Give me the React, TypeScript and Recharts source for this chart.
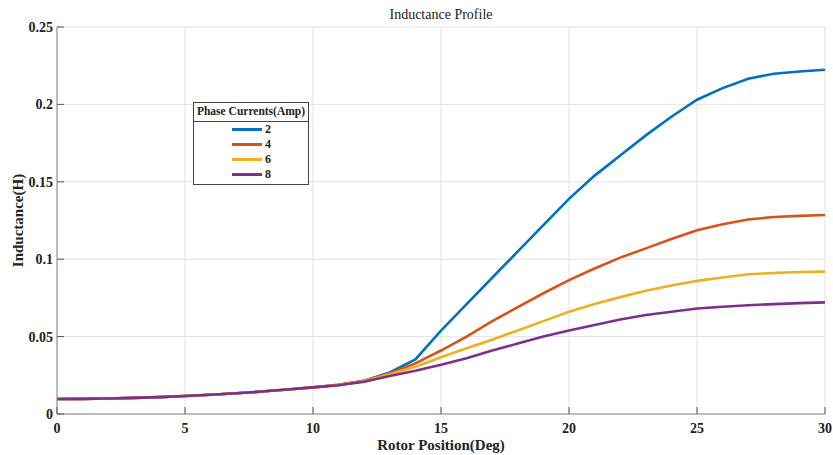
import { LineChart, Line, XAxis, YAxis, CartesianGrid, Legend } from "recharts";

const positions = [
  0, 1, 2, 3, 4, 5, 6, 7, 8, 9, 10, 11, 12, 13, 14, 15, 16, 17, 18, 19, 20,
  21, 22, 23, 24, 25, 26, 27, 28, 29, 30,
];

const amp2 = [
  0.0097, 0.0098, 0.01, 0.0104, 0.0109, 0.0116, 0.0124, 0.0134, 0.0145, 0.0158,
  0.0172, 0.0189, 0.0215, 0.0268, 0.0353, 0.0538, 0.071, 0.088, 0.105, 0.122,
  0.139, 0.154, 0.167, 0.18, 0.192, 0.203, 0.2105, 0.2166, 0.2198, 0.2213,
  0.2224,
];
const amp4 = [
  0.0097, 0.0098, 0.01, 0.0104, 0.0109, 0.0116, 0.0124, 0.0134, 0.0145, 0.0158,
  0.0172, 0.0188, 0.0214, 0.0262, 0.0327, 0.041, 0.05, 0.06, 0.069, 0.078,
  0.0865, 0.094, 0.101, 0.107, 0.113, 0.1187, 0.1226, 0.1256, 0.1273, 0.128,
  0.1286,
];
const amp6 = [
  0.0097, 0.0098, 0.01, 0.0104, 0.0109, 0.0116, 0.0124, 0.0134, 0.0145, 0.0158,
  0.0172, 0.0187, 0.0212, 0.0256, 0.0305, 0.0367, 0.0425, 0.048, 0.054, 0.06,
  0.066, 0.071, 0.0755, 0.0796, 0.083, 0.086, 0.0882, 0.0903, 0.0911, 0.0917,
  0.092,
];
const amp8 = [
  0.0097, 0.0098, 0.01, 0.0104, 0.0109, 0.0116, 0.0124, 0.0134, 0.0145, 0.0158,
  0.0172, 0.0186, 0.0208, 0.0245, 0.0279, 0.0318, 0.036, 0.041, 0.0455, 0.05,
  0.054, 0.0575, 0.061, 0.0639, 0.066, 0.0682, 0.0693, 0.0703, 0.071, 0.0716,
  0.0721,
];

const xTicks = [0, 5, 10, 15, 20, 25, 30];
const yTicks = [0, 0.05, 0.1, 0.15, 0.2, 0.25];

const series = [
  { key: "a2", name: "2", color: "#0072BD" },
  { key: "a4", name: "4", color: "#D95319" },
  { key: "a6", name: "6", color: "#EDB120" },
  { key: "a8", name: "8", color: "#7E2F8E" },
];

const data = positions.map((x, i) => ({
  x,
  a2: amp2[i],
  a4: amp4[i],
  a6: amp6[i],
  a8: amp8[i],
}));

const FONT = "'Liberation Serif', 'DejaVu Serif', serif";
const TICK_COLOR = "#555";

function BottomTick({ x, y, payload }: any) {
  return (
    <g>
      <line x1={x} x2={x} y1={y} y2={y - 7} stroke={TICK_COLOR} />
      <text x={x} y={y + 19} textAnchor="middle" fontFamily={FONT} fontWeight="bold" fontSize={14} fill="#222">
        {payload.value}
      </text>
    </g>
  );
}

function TopTick({ x, y }: any) {
  return <line x1={x} x2={x} y1={y} y2={y + 7} stroke={TICK_COLOR} />;
}

function LeftTick({ x, y, payload }: any) {
  return (
    <g>
      <line x1={x} x2={x + 7} y1={y} y2={y} stroke={TICK_COLOR} />
      <text x={x - 4} y={y} dy="0.35em" textAnchor="end" fontFamily={FONT} fontWeight="bold" fontSize={14} fill="#222">
        {payload.value}
      </text>
    </g>
  );
}

function RightTick({ x, y }: any) {
  return <line x1={x} x2={x - 7} y1={y} y2={y} stroke={TICK_COLOR} />;
}

function LegendBox() {
  return (
    <div
      style={{
        border: "1px solid #444",
        background: "#fff",
        fontFamily: FONT,
        fontWeight: "bold",
        fontSize: 11.5,
        color: "#222",
        boxSizing: "border-box",
        width: 116,
      }}
    >
      <div style={{ textAlign: "center", borderBottom: "1px solid #444", lineHeight: "17px", height: 18, whiteSpace: "nowrap" }}>
        Phase Currents(Amp)
      </div>
      <div style={{ padding: "0 0 2px" }}>
        {series.map((s) => (
          <div key={s.key} style={{ display: "flex", alignItems: "center", height: 15, paddingLeft: 38 }}>
            <span style={{ display: "inline-block", width: 30, height: 3, background: s.color, marginRight: 3 }} />
            <span style={{ fontSize: 12 }}>{s.name}</span>
          </div>
        ))}
      </div>
    </div>
  );
}

export default function App() {
  return (
    <div style={{ position: "absolute", left: 0, top: 0, width: 833, height: 455, background: "#fff" }}>
      <div
        style={{
          position: "absolute",
          left: 341,
          top: 6,
          width: 200,
          textAlign: "center",
          fontFamily: FONT,
          fontSize: 14,
          color: "#222",
          lineHeight: "18px",
        }}
      >
        Inductance Profile
      </div>
      <LineChart
        width={833}
        height={455}
        data={data}
        margin={{ top: 27, right: 8, left: 0, bottom: 0 }}
      >
        <CartesianGrid stroke="#e3e3e3" strokeWidth={1} />
        <XAxis
          dataKey="x"
          type="number"
          domain={[0, 30]}
          ticks={xTicks}
          height={41}
          tickSize={0}
          tickMargin={0}
          tickLine={false}
          tick={<BottomTick />}
          axisLine={{ stroke: "#888" }}
          label={{
            value: "Rotor Position(Deg)",
            position: "center",
            dy: 10,
            style: { fontFamily: FONT, fontWeight: "bold", fontSize: 15, fill: "#222" },
          }}
        />
        <XAxis
          xAxisId="top"
          orientation="top"
          type="number"
          domain={[0, 30]}
          ticks={xTicks}
          height={0}
          tickSize={0}
          tickMargin={0}
          tickLine={false}
          tick={<TopTick />}
          axisLine={{ stroke: "#888" }}
        />
        <YAxis
          type="number"
          domain={[0, 0.25]}
          ticks={yTicks}
          width={57}
          tickSize={0}
          tickMargin={0}
          tickLine={false}
          tick={<LeftTick />}
          axisLine={{ stroke: "#888" }}
          label={{
            value: "Inductance(H)",
            angle: -90,
            position: "center",
            dx: -11,
            style: { fontFamily: FONT, fontWeight: "bold", fontSize: 15, fill: "#222" },
          }}
        />
        <YAxis
          yAxisId="right"
          orientation="right"
          type="number"
          domain={[0, 0.25]}
          ticks={yTicks}
          width={0}
          tickSize={0}
          tickMargin={0}
          tickLine={false}
          tick={<RightTick />}
          axisLine={{ stroke: "#888" }}
        />
        <Legend
          layout="horizontal"
          verticalAlign="middle"
          align="center"
          content={() => <LegendBox />}
          wrapperStyle={{ position: "absolute", left: 193, top: 102, width: 116 }}
        />
        {series.map((s) => (
          <Line
            key={s.key}
            type="linear"
            dataKey={s.key}
            name={s.name}
            stroke={s.color}
            strokeWidth={2.6}
            dot={false}
            isAnimationActive={false}
          />
        ))}
      </LineChart>
    </div>
  );
}
